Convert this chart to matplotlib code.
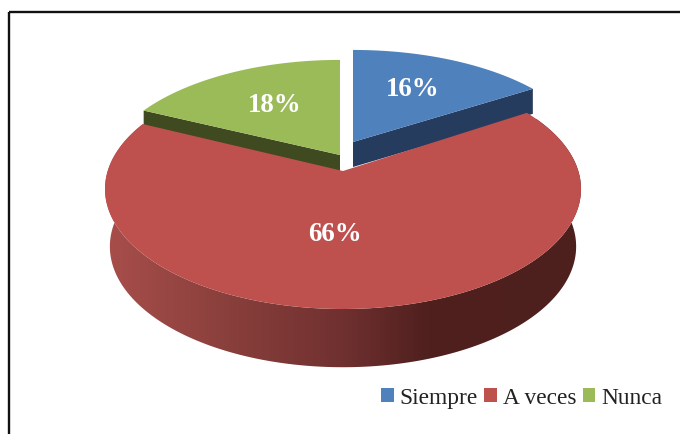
import numpy as np
import matplotlib
matplotlib.use('Agg')
import matplotlib.pyplot as plt
from matplotlib.patches import Patch, Polygon, Rectangle
from matplotlib.colors import LinearSegmentedColormap

plt.rcParams['font.family'] = ['Liberation Serif', 'DejaVu Serif']

# values
labels = ['Siempre', 'A veces', 'Nunca']
values = [16, 66, 18]
pct_labels = ['16%', '66%', '18%']
colors = ['#4f81bd', '#be504e', '#9bbb59']
dark_colors = ['#253c5e', '#4a1c1a', '#3f4a20']

# pixel layout of the pseudo 3d pie: apex x, apex y, perspective, x radius, y radius
geom = {'Siempre': (353, 143, 0.184, 234, 109),
        'A veces': (343, 172, 0.15, 235.3, 117.3),
        'Nunca': (340, 156, 0.184, 234, 112.6)}
wall = {'Siempre': 25, 'Nunca': 16}
label_pos = {'Siempre': (413, 90), 'A veces': (335, 235), 'Nunca': (275, 105)}


def project(angle, cx, cy, k, ax_r, by_r):
    # angle in degrees, clockwise from 12 o'clock, front of the pie is bigger
    t = np.radians(angle)
    w = 1 + k * np.cos(t)
    return cx + ax_r * np.sin(t) / w, cy - by_r * np.cos(t) / w


fig = plt.figure(figsize=(6.8, 4.35), dpi=100)
ax = fig.add_axes([0, 0, 1, 1])
ax.axis('off')

# outer frame, runs off the right and bottom
ax.add_patch(Rectangle((8.5, 12.5), 720, 480, fill=False, ec='#111111', lw=1.7))

edges = np.cumsum([0] + values) * 3.6

# cut faces of the two small slices, drawn first so the red one covers them
for i, name in enumerate(labels):
    if name == 'A veces':
        continue
    ang = edges[i + 1] if name == 'Siempre' else edges[i]
    cx, cy = geom[name][:2]
    tx, ty = project(ang, *geom[name])
    d = wall[name]
    ax.add_patch(Polygon([(cx, cy), (tx, ty), (tx, ty + d), (cx, cy + d)],
                         fc=dark_colors[i], ec='none', zorder=2))

# red side wall with the left to right shading
th = np.linspace(edges[1], edges[2], 300)
top_x, top_y = project(th, *geom['A veces'])
bot_x, bot_y = project(th, 343, 229.4, 0.15, 230.5, 118)
outline = np.r_[np.c_[top_x, top_y], np.c_[bot_x, bot_y][::-1]]
side = Polygon(outline, fc='none', ec='none', zorder=3)
ax.add_patch(side)
cmap = LinearSegmentedColormap.from_list(
    'side', [(0, '#a84e4b'), (0.25, '#8a403c'), (0.5, '#703030'), (0.68, '#4f201e'), (1, '#4d1f1d')])
img = ax.imshow(np.linspace(0, 1, 256).reshape(1, -1), cmap=cmap, aspect='auto',
                extent=(105, 581, 370, 120), zorder=3)
img.set_clip_path(side)

# top faces
for i, name in enumerate(labels):
    cx, cy = geom[name][:2]
    th = np.linspace(edges[i], edges[i + 1], 200)
    x, y = project(th, *geom[name])
    ax.add_patch(Polygon(np.r_[[(cx, cy)], np.c_[x, y]], fc=colors[i], ec='none', zorder=4))
    lx, ly = label_pos[name]
    ax.text(lx, ly, pct_labels[i], color='white', fontsize=19.4, fontweight='bold',
            ha='center', va='center', zorder=5)

ax.set_xlim(0, 680)
ax.set_ylim(435, 0)

handles = [Patch(fc=c, ec='none') for c in colors]
ax.legend(handles, labels, ncol=3, frameon=False, fontsize=16.8, loc='center right',
          bbox_to_anchor=(662, 399), bbox_transform=ax.transData, handlelength=0.55,
          handleheight=0.55, handletextpad=0.237, columnspacing=0.28, borderpad=0,
          borderaxespad=0, labelcolor='#222222')

fig.savefig('out.png', dpi=100)
